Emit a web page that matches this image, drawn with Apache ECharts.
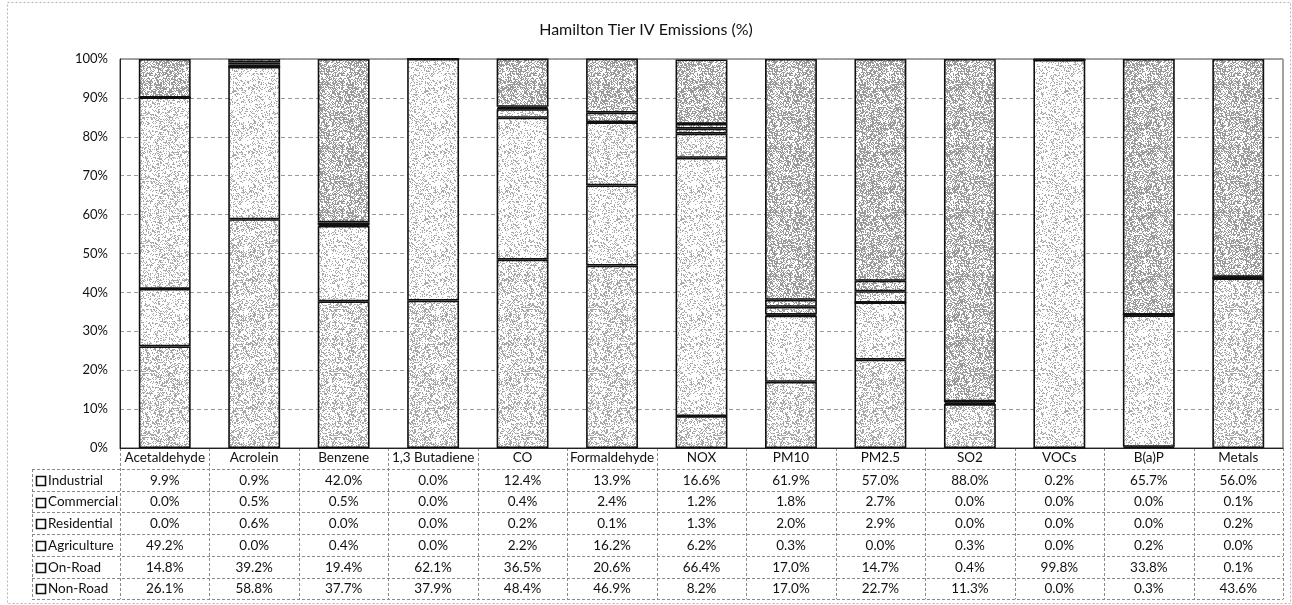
<!DOCTYPE html>
<html>
<head>
<meta charset="utf-8">
<script src="https://cdn.jsdelivr.net/npm/echarts@6/dist/echarts.min.js"></script>
<style>
  html, body { margin: 0; padding: 0; background: #fff; }
  #chart { width: 1292px; height: 605px; }
</style>
</head>
<body>
<div id="chart"></div>
<script>
// Pollutant categories along the x axis
const categories = ['Acetaldehyde', 'Acrolein', 'Benzene', '1,3 Butadiene', 'CO', 'Formaldehyde',
  'NOX', 'PM10', 'PM2.5', 'SO2', 'VOCs', 'B(a)P', 'Metals'];

// Share of emissions by source sector (%)
const industrial  = [9.9, 0.9, 42.0, 0.0, 12.4, 13.9, 16.6, 61.9, 57.0, 88.0, 0.2, 65.7, 56.0];
const commercial  = [0.0, 0.5, 0.5, 0.0, 0.4, 2.4, 1.2, 1.8, 2.7, 0.0, 0.0, 0.0, 0.1];
const residential = [0.0, 0.6, 0.0, 0.0, 0.2, 0.1, 1.3, 2.0, 2.9, 0.0, 0.0, 0.0, 0.2];
const agriculture = [49.2, 0.0, 0.4, 0.0, 2.2, 16.2, 6.2, 0.3, 0.0, 0.3, 0.0, 0.2, 0.0];
const onRoad      = [14.8, 39.2, 19.4, 62.1, 36.5, 20.6, 66.4, 17.0, 14.7, 0.4, 99.8, 33.8, 0.1];
const nonRoad     = [26.1, 58.8, 37.7, 37.9, 48.4, 46.9, 8.2, 17.0, 22.7, 11.3, 0.0, 0.3, 43.6];

// Rows of the data table, top to bottom
const tableRows = ['Industrial', 'Commercial', 'Residential', 'Agriculture', 'On-Road', 'Non-Road'];
const tableValues = [industrial, commercial, residential, agriculture, onRoad, nonRoad];

const FONT = 'Lato, "Open Sans", sans-serif';
const TEXT = '#111111';

// Stippled fill: grey dots scattered on white at a given density
function stipple(density, dot) {
  const size = 64;
  const c = document.createElement('canvas');
  c.width = size; c.height = size;
  const ctx = c.getContext('2d');
  ctx.fillStyle = '#ffffff';
  ctx.fillRect(0, 0, size, size);
  ctx.fillStyle = dot;
  for (let y = 0; y < size; y++) {
    for (let x = 0; x < size; x++) {
      let h = (x * 374761393 + y * 668265263) >>> 0;
      h = ((h ^ (h >>> 13)) * 1274126177) >>> 0;
      h = (h ^ (h >>> 16)) >>> 0;
      if ((h % 1000) / 1000 < density) ctx.fillRect(x, y, 1, 1);
    }
  }
  return { image: c, repeat: 'repeat' };
}

const fills = {
  'Non-Road':    stipple(0.36, '#a6a6a6'),
  'On-Road':     stipple(0.24, '#ababab'),
  'Agriculture': stipple(0.30, '#ababab'),
  'Residential': stipple(0.38, '#a0a0a0'),
  'Commercial':  stipple(0.42, '#9a9a9a'),
  'Industrial':  stipple(0.55, '#9a9a9a')
};

// Stack order, bottom to top
const stackOrder = [
  ['Non-Road', nonRoad], ['On-Road', onRoad], ['Agriculture', agriculture],
  ['Residential', residential], ['Commercial', commercial], ['Industrial', industrial]
];

const GRID = { left: 120, right: 9, top: 59, bottom: 157 };

const chart = echarts.init(document.getElementById('chart'), null, { renderer: 'canvas' });

chart.setOption({
  animation: false,
  backgroundColor: '#ffffff',
  title: {
    text: 'Hamilton Tier IV Emissions (%)',
    left: 'center',
    top: 17,
    textStyle: { fontFamily: FONT, fontSize: 16, fontWeight: 'normal', color: TEXT }
  },
  grid: {
    left: GRID.left, right: GRID.right, top: GRID.top, bottom: GRID.bottom,
    show: true, borderColor: '#444', borderWidth: 1, backgroundColor: 'transparent'
  },
  xAxis: {
    type: 'category',
    data: categories,
    axisLine: { show: true, lineStyle: { color: '#222', width: 1 } },
    axisTick: { show: false },
    axisLabel: {
      margin: 10, verticalAlign: 'middle', interval: 0,
      fontFamily: FONT, fontSize: 13.5, color: TEXT
    }
  },
  yAxis: {
    type: 'value',
    min: 0, max: 100, interval: 10,
    axisLine: { show: true, lineStyle: { color: '#222', width: 1 } },
    axisTick: { show: false },
    axisLabel: { formatter: '{value}%', margin: 12, fontFamily: FONT, fontSize: 13, color: TEXT },
    splitLine: { show: true, lineStyle: { color: '#9a9a9a', type: [4, 3], width: 1 } }
  },
  series: stackOrder.map(([name, values]) => ({
    name,
    type: 'bar',
    stack: 'total',
    barWidth: '58%',
    data: values,
    itemStyle: { color: fills[name], borderColor: '#111', borderWidth: 1.6 }
  }))
});

// Data table under the axis, aligned with the category columns
function drawTable() {
  const elems = [];
  const gLeft = GRID.left, gRight = 1292 - GRID.right;
  const axisY = 605 - GRID.bottom;
  const headerBottom = 469;
  const rowH = 21.7;
  const tableBottom = headerBottom + rowH * tableRows.length;
  const legendLeft = 32;
  const step = (gRight - gLeft) / categories.length;
  const lineStyle = { stroke: '#8a8a8a', lineWidth: 1, lineDash: [3, 2] };

  // horizontal rules
  for (let r = 0; r <= tableRows.length; r++) {
    const y = Math.round(headerBottom + r * rowH) + 0.5;
    elems.push({ type: 'line', silent: true,
      shape: { x1: legendLeft, y1: y, x2: gRight, y2: y }, style: lineStyle });
  }
  // vertical rules between category columns
  for (let i = 0; i <= categories.length; i++) {
    const x = Math.round(gLeft + i * step) + 0.5;
    elems.push({ type: 'line', silent: true,
      shape: { x1: x, y1: axisY, x2: x, y2: tableBottom }, style: lineStyle });
  }
  // left border of the legend column
  elems.push({ type: 'line', silent: true,
    shape: { x1: legendLeft + 0.5, y1: headerBottom, x2: legendLeft + 0.5, y2: tableBottom }, style: lineStyle });

  tableRows.forEach((row, r) => {
    const cy = headerBottom + r * rowH + rowH / 2 + 0.5;
    // legend key
    elems.push({ type: 'rect', silent: true,
      shape: { x: 36.5, y: Math.round(cy - 4.5) + 0.5, width: 9, height: 9 },
      style: { fill: '#ffffff', stroke: '#111', lineWidth: 1.6 } });
    elems.push({ type: 'text', silent: true,
      style: { x: 48, y: cy, text: row, fontFamily: FONT, fontSize: 13.5, fill: TEXT,
        textAlign: 'left', textVerticalAlign: 'middle' } });
    tableValues[r].forEach((v, i) => {
      const x = chart.convertToPixel({ xAxisIndex: 0 }, i);
      elems.push({ type: 'text', silent: true,
        style: { x, y: cy, text: v.toFixed(1) + '%', fontFamily: FONT, fontSize: 13.5, fill: TEXT,
          textAlign: 'center', textVerticalAlign: 'middle' } });
    });
  });

  // outer chart frame
  elems.push({ type: 'rect', silent: true,
    shape: { x: 7.5, y: 2.5, width: 1283, height: 601 },
    style: { fill: 'none', stroke: '#b5b5b5', lineWidth: 1, lineDash: [2, 2] } });

  chart.setOption({ graphic: elems });
}
drawTable();
</script>
</body>
</html>
